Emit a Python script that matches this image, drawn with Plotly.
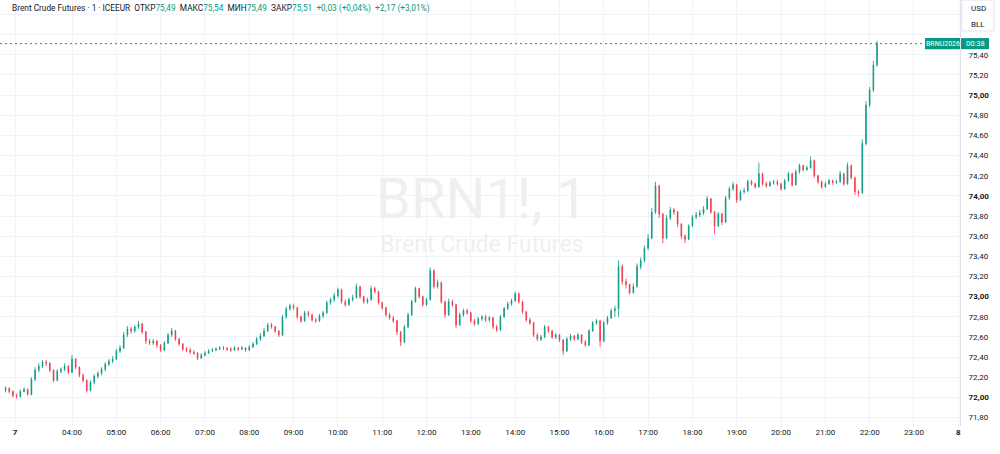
import plotly.graph_objects as go
import pandas as pd

# ---------------- data (5-minute candles) ----------------
opens = [
    72.07, 72.09, 72.06, 72.02, 72.01, 72.06, 72.08, 72.03, 72.18, 72.27, 72.31, 72.35,
    72.34, 72.27, 72.17, 72.26, 72.28, 72.31, 72.25, 72.38, 72.30, 72.22, 72.17, 72.07,
    72.15, 72.21, 72.24, 72.28, 72.33, 72.36, 72.38, 72.46, 72.49, 72.62, 72.68, 72.66,
    72.70, 72.73, 72.65, 72.56, 72.54, 72.56, 72.52, 72.47, 72.54, 72.62, 72.66, 72.58,
    72.53, 72.48, 72.47, 72.45, 72.44, 72.39, 72.42, 72.44, 72.46, 72.47, 72.48, 72.49,
    72.49, 72.48, 72.47, 72.49, 72.48, 72.49, 72.47, 72.50, 72.53, 72.58, 72.61, 72.66,
    72.72, 72.70, 72.66, 72.62, 72.80, 72.88, 72.91, 72.89, 72.80, 72.76, 72.84, 72.82,
    72.77, 72.76, 72.81, 72.84, 72.94, 72.97, 73.01, 73.07, 72.95, 72.92, 72.97, 72.99,
    73.10, 73.00, 72.95, 72.97, 73.08, 73.05, 72.94, 72.89, 72.82, 72.79, 72.76, 72.65,
    72.55, 72.70, 72.82, 72.95, 73.08, 73.00, 72.92, 72.97, 73.26, 73.10, 73.14, 72.95,
    72.82, 72.95, 72.92, 72.72, 72.82, 72.86, 72.84, 72.76, 72.73, 72.78, 72.80, 72.77,
    72.79, 72.70, 72.67, 72.80, 72.88, 72.93, 72.96, 73.03, 72.95, 72.85, 72.77, 72.74,
    72.62, 72.58, 72.60, 72.70, 72.66, 72.60, 72.62, 72.57, 72.46, 72.58, 72.61, 72.58,
    72.62, 72.55, 72.52, 72.66, 72.74, 72.76, 72.56, 72.74, 72.79, 72.86, 72.88, 73.30,
    73.15, 73.12, 73.04, 73.10, 73.30, 73.36, 73.48, 73.58, 73.84, 74.10, 73.82, 73.58,
    73.78, 73.86, 73.84, 73.72, 73.60, 73.57, 73.70, 73.79, 73.81, 73.83, 73.87, 73.97,
    73.84, 73.70, 73.82, 73.74, 73.98, 74.07, 74.11, 73.96, 74.04, 74.05, 74.14, 74.12,
    74.09, 74.22, 74.12, 74.10, 74.13, 74.14, 74.12, 74.07, 74.15, 74.22, 74.11, 74.24,
    74.30, 74.26, 74.28, 74.35, 74.20, 74.14, 74.09, 74.12, 74.15, 74.13, 74.14, 74.22,
    74.12, 74.30, 74.18, 74.04, 74.03, 74.52, 74.90, 75.05, 75.30,
]
highs = [
    72.11, 72.10, 72.07, 72.04, 72.08, 72.10, 72.09, 72.20, 72.30, 72.34, 72.37, 72.37,
    72.35, 72.28, 72.28, 72.30, 72.34, 72.32, 72.42, 72.39, 72.31, 72.24, 72.18, 72.17,
    72.23, 72.26, 72.30, 72.35, 72.38, 72.41, 72.48, 72.52, 72.65, 72.71, 72.70, 72.72,
    72.76, 72.74, 72.66, 72.58, 72.58, 72.57, 72.53, 72.56, 72.64, 72.69, 72.67, 72.59,
    72.54, 72.50, 72.49, 72.47, 72.45, 72.44, 72.46, 72.48, 72.49, 72.50, 72.51, 72.51,
    72.50, 72.50, 72.51, 72.50, 72.51, 72.50, 72.52, 72.55, 72.60, 72.64, 72.69, 72.74,
    72.74, 72.71, 72.67, 72.82, 72.90, 72.93, 72.93, 72.90, 72.81, 72.86, 72.86, 72.83,
    72.79, 72.83, 72.86, 72.96, 72.99, 73.04, 73.09, 73.08, 72.97, 72.99, 73.02, 73.13,
    73.11, 73.01, 72.99, 73.11, 73.10, 73.06, 72.95, 72.90, 72.84, 72.81, 72.77, 72.66,
    72.72, 72.84, 72.97, 73.10, 73.09, 73.01, 72.99, 73.29, 73.27, 73.17, 73.15, 72.96,
    72.98, 72.97, 72.93, 72.84, 72.88, 72.88, 72.85, 72.78, 72.80, 72.82, 72.82, 72.81,
    72.80, 72.72, 72.82, 72.90, 72.95, 72.98, 73.05, 73.04, 72.96, 72.86, 72.79, 72.75,
    72.64, 72.62, 72.72, 72.71, 72.67, 72.64, 72.63, 72.58, 72.60, 72.63, 72.62, 72.64,
    72.63, 72.57, 72.68, 72.76, 72.78, 72.77, 72.76, 72.81, 72.88, 72.91, 73.36, 73.32,
    73.18, 73.13, 73.13, 73.33, 73.39, 73.51, 73.62, 73.88, 74.14, 74.11, 73.83, 73.81,
    73.89, 73.88, 73.85, 73.73, 73.62, 73.72, 73.81, 73.84, 73.86, 73.90, 74.00, 73.98,
    73.85, 73.84, 73.83, 74.00, 74.09, 74.14, 74.12, 74.06, 74.08, 74.16, 74.16, 74.13,
    74.33, 74.23, 74.14, 74.15, 74.16, 74.16, 74.13, 74.17, 74.24, 74.23, 74.26, 74.32,
    74.31, 74.30, 74.39, 74.36, 74.21, 74.15, 74.14, 74.17, 74.16, 74.16, 74.25, 74.23,
    74.33, 74.31, 74.19, 74.06, 74.56, 74.94, 75.08, 75.34, 75.54,
]
lows = [
    72.05, 72.04, 72.00, 71.99, 72.00, 72.05, 72.02, 72.02, 72.16, 72.25, 72.29, 72.31,
    72.25, 72.15, 72.16, 72.24, 72.26, 72.23, 72.24, 72.28, 72.20, 72.15, 72.05, 72.06,
    72.13, 72.19, 72.22, 72.26, 72.31, 72.34, 72.37, 72.44, 72.48, 72.60, 72.63, 72.64,
    72.68, 72.63, 72.53, 72.52, 72.52, 72.49, 72.45, 72.46, 72.53, 72.60, 72.56, 72.51,
    72.46, 72.45, 72.43, 72.42, 72.37, 72.38, 72.41, 72.43, 72.45, 72.46, 72.47, 72.47,
    72.46, 72.45, 72.46, 72.46, 72.47, 72.45, 72.46, 72.49, 72.52, 72.56, 72.60, 72.65,
    72.68, 72.64, 72.60, 72.61, 72.78, 72.86, 72.87, 72.78, 72.74, 72.75, 72.80, 72.75,
    72.74, 72.75, 72.79, 72.83, 72.92, 72.95, 72.99, 72.93, 72.90, 72.91, 72.95, 72.98,
    72.98, 72.93, 72.93, 72.96, 73.03, 72.92, 72.87, 72.80, 72.77, 72.74, 72.62, 72.51,
    72.54, 72.69, 72.81, 72.94, 72.98, 72.90, 72.91, 72.96, 73.08, 73.08, 72.93, 72.79,
    72.81, 72.90, 72.69, 72.71, 72.80, 72.82, 72.74, 72.71, 72.72, 72.76, 72.75, 72.75,
    72.68, 72.65, 72.66, 72.79, 72.87, 72.91, 72.95, 72.93, 72.83, 72.75, 72.72, 72.60,
    72.56, 72.56, 72.59, 72.64, 72.58, 72.58, 72.55, 72.42, 72.45, 72.56, 72.56, 72.57,
    72.53, 72.50, 72.51, 72.65, 72.72, 72.50, 72.55, 72.72, 72.78, 72.80, 72.80, 73.12,
    73.08, 73.02, 73.03, 73.09, 73.27, 73.34, 73.46, 73.57, 73.82, 73.78, 73.53, 73.57,
    73.76, 73.81, 73.69, 73.57, 73.53, 73.56, 73.69, 73.77, 73.79, 73.81, 73.86, 73.82,
    73.62, 73.69, 73.71, 73.73, 73.96, 74.05, 73.93, 73.95, 74.02, 74.04, 74.10, 74.07,
    74.08, 74.10, 74.08, 74.09, 74.11, 74.10, 74.05, 74.06, 74.14, 74.09, 74.10, 74.22,
    74.24, 74.25, 74.27, 74.18, 74.12, 74.07, 74.08, 74.11, 74.11, 74.12, 74.13, 74.10,
    74.11, 74.16, 74.01, 73.99, 74.02, 74.50, 74.88, 75.03, 75.28,
]
closes = [
    72.09, 72.06, 72.02, 72.01, 72.06, 72.08, 72.03, 72.18, 72.27, 72.31, 72.35, 72.34,
    72.27, 72.17, 72.26, 72.28, 72.31, 72.25, 72.38, 72.30, 72.22, 72.17, 72.07, 72.15,
    72.21, 72.24, 72.28, 72.33, 72.36, 72.38, 72.46, 72.49, 72.62, 72.68, 72.66, 72.70,
    72.73, 72.65, 72.56, 72.54, 72.56, 72.52, 72.47, 72.54, 72.62, 72.66, 72.58, 72.53,
    72.48, 72.47, 72.45, 72.44, 72.39, 72.42, 72.44, 72.46, 72.47, 72.48, 72.49, 72.49,
    72.48, 72.47, 72.49, 72.48, 72.49, 72.47, 72.50, 72.53, 72.58, 72.61, 72.66, 72.72,
    72.70, 72.66, 72.62, 72.80, 72.88, 72.91, 72.89, 72.80, 72.76, 72.84, 72.82, 72.77,
    72.76, 72.81, 72.84, 72.94, 72.97, 73.01, 73.07, 72.95, 72.92, 72.97, 72.99, 73.10,
    73.00, 72.95, 72.97, 73.08, 73.05, 72.94, 72.89, 72.82, 72.79, 72.76, 72.65, 72.55,
    72.70, 72.82, 72.95, 73.08, 73.00, 72.92, 72.97, 73.26, 73.10, 73.14, 72.95, 72.82,
    72.95, 72.92, 72.72, 72.82, 72.86, 72.84, 72.76, 72.73, 72.78, 72.80, 72.77, 72.79,
    72.70, 72.67, 72.80, 72.88, 72.93, 72.96, 73.03, 72.95, 72.85, 72.77, 72.74, 72.62,
    72.58, 72.60, 72.70, 72.66, 72.60, 72.62, 72.57, 72.46, 72.58, 72.61, 72.58, 72.62,
    72.55, 72.52, 72.66, 72.74, 72.76, 72.56, 72.74, 72.79, 72.86, 72.88, 73.30, 73.15,
    73.12, 73.04, 73.10, 73.30, 73.36, 73.48, 73.58, 73.84, 74.10, 73.82, 73.58, 73.78,
    73.86, 73.84, 73.72, 73.60, 73.57, 73.70, 73.79, 73.81, 73.83, 73.87, 73.97, 73.84,
    73.70, 73.82, 73.74, 73.98, 74.07, 74.11, 73.96, 74.04, 74.05, 74.14, 74.12, 74.09,
    74.22, 74.12, 74.10, 74.13, 74.14, 74.12, 74.07, 74.15, 74.22, 74.11, 74.24, 74.30,
    74.26, 74.28, 74.35, 74.20, 74.14, 74.09, 74.12, 74.15, 74.13, 74.14, 74.22, 74.12,
    74.30, 74.18, 74.04, 74.03, 74.52, 74.90, 75.05, 75.30, 75.51,
]

first_bar_time = "2025-07-07 02:30"
bar_step = "5min"

x_tick_times = [
    "2025-07-07 02:43", "2025-07-07 04:00", "2025-07-07 05:00", "2025-07-07 06:00",
    "2025-07-07 07:00", "2025-07-07 08:00", "2025-07-07 09:00", "2025-07-07 10:00",
    "2025-07-07 11:00", "2025-07-07 12:00", "2025-07-07 13:00", "2025-07-07 14:00",
    "2025-07-07 15:00", "2025-07-07 16:00", "2025-07-07 17:00", "2025-07-07 18:00",
    "2025-07-07 19:00", "2025-07-07 20:00", "2025-07-07 21:00", "2025-07-07 22:00",
    "2025-07-07 23:00", "2025-07-08 00:00",
]
x_tick_labels = [
    "<b>7</b>", "04:00", "05:00", "06:00", "07:00", "08:00", "09:00", "10:00",
    "11:00", "12:00", "13:00", "14:00", "15:00", "16:00", "17:00", "18:00",
    "19:00", "20:00", "21:00", "22:00", "23:00", "<b>8</b>",
]
y_tick_vals = [71.8, 72.0, 72.2, 72.4, 72.6, 72.8, 73.0, 73.2, 73.4, 73.6,
               73.8, 74.0, 74.2, 74.4, 74.6, 74.8, 75.0, 75.2, 75.4, 75.6, 75.8]
y_tick_labels = ["71,80", "<b>72,00</b>", "72,20", "72,40", "72,60", "72,80",
                 "<b>73,00</b>", "73,20", "73,40", "73,60", "73,80", "<b>74,00</b>",
                 "74,20", "74,40", "74,60", "74,80", "<b>75,00</b>", "75,20",
                 "75,40", "", ""]

last_price = 75.51
ref_level = 72.00
symbol_label = "BRNU2026"
countdown_label = "00:38"
watermark_main = "BRN1!, 1"
watermark_sub = "Brent Crude Futures"

UP = "#089981"
DOWN = "#F23645"
TXT = "#131722"
GRID = "#f0f3fa"
FONT = "Roboto, Noto Sans, sans-serif"

# ---------------- geometry ----------------
W, H = 1000, 454
ML, MR, MT, MB = 0, 40, 0, 28
PW, PH = W - ML - MR, H - MT - MB


def px(x):
    return x / PW


def py(y):
    return 1 - y / PH


times = pd.date_range(first_bar_time, periods=len(closes), freq=bar_step)

fig = go.Figure()
fig.add_trace(go.Candlestick(
    x=times, open=opens, high=highs, low=lows, close=closes,
    increasing=dict(line=dict(color=UP, width=0.8), fillcolor=UP),
    decreasing=dict(line=dict(color=DOWN, width=0.8), fillcolor=DOWN),
    whiskerwidth=0, showlegend=False, hoverinfo="skip",
))

shapes = [
    dict(type="line", xref="paper", yref="y", x0=0, x1=1, y0=ref_level, y1=ref_level,
         line=dict(color="rgba(255,152,0,0.55)", width=1, dash="2px,2px"), layer="below"),
    dict(type="line", xref="paper", yref="y", x0=0, x1=px(925), y0=last_price, y1=last_price,
         line=dict(color=UP, width=1, dash="2px,3px"), layer="above"),
    # USD / BLL box
    dict(type="rect", xref="paper", yref="paper", x0=px(962), x1=px(994), y0=py(31), y1=py(0),
         fillcolor="white", line=dict(color="#e0e3eb", width=1), layer="above"),
    # last price labels
    dict(type="rect", xref="paper", yref="y", x0=px(925), x1=px(960),
         y0=last_price - 0.055, y1=last_price + 0.055,
         fillcolor=UP, line=dict(width=0), layer="above"),
    dict(type="rect", xref="paper", yref="y", x0=px(961), x1=px(989),
         y0=last_price - 0.055, y1=last_price + 0.055,
         fillcolor=UP, line=dict(width=0), layer="above"),
]

val = lambda s: f"<span style='color:{UP}'>{s}</span>"
sp = "\u00a0\u00a0"
header = ("Brent Crude Futures · 1 · ICEEUR" + sp + "ОТКР" + val("75,49") + sp + "МАКС" + val("75,54")
          + sp + "МИН" + val("75,49") + sp + "ЗАКР" + val("75,51") + sp + val("+0,03 (+0,04%)")
          + sp + val("+2,17 (+3,01%)"))

watermark = (f"<span style='font-size:56px'>{watermark_main}</span><br>"
             f"<span style='font-size:23px'>{watermark_sub}</span>")

annotations = [
    dict(text=watermark, xref="paper", yref="paper", x=px(482), y=py(212),
         xanchor="center", yanchor="middle", align="center",
         showarrow=False, font=dict(family=FONT, size=26, color="#efefef")),
    dict(text=header, xref="paper", yref="paper", x=px(10), y=py(8), xanchor="left",
         yanchor="middle", showarrow=False, font=dict(family=FONT, size=8.3, color=TXT)),
    dict(text="USD", xref="paper", yref="paper", x=px(978), y=py(8), xanchor="center",
         yanchor="middle", showarrow=False, font=dict(family=FONT, size=8, color=TXT)),
    dict(text="BLL", xref="paper", yref="paper", x=px(978), y=py(24), xanchor="center",
         yanchor="middle", showarrow=False, font=dict(family=FONT, size=8, color=TXT)),
    dict(text=symbol_label, xref="paper", yref="y", x=px(942.5), y=last_price,
         xanchor="center", yanchor="middle", showarrow=False,
         font=dict(family=FONT, size=7, color="white")),
    dict(text=countdown_label, xref="paper", yref="y", x=px(975), y=last_price,
         xanchor="center", yanchor="middle", showarrow=False,
         font=dict(family=FONT, size=7.5, color="white")),
]

fig.update_layout(
    width=W, height=H, margin=dict(l=ML, r=MR, t=MT, b=MB, autoexpand=False),
    paper_bgcolor="white", plot_bgcolor="white",
    separators=", ", boxgap=0.72,
    shapes=shapes, annotations=annotations,
    font=dict(family=FONT, size=8, color=TXT),
    xaxis=dict(
        type="date", range=["2025-07-07 02:22:30", "2025-07-08 00:02:18"],
        rangeslider=dict(visible=False), tickmode="array",
        tickvals=x_tick_times, ticktext=x_tick_labels, automargin=False,
        showgrid=True, gridcolor=GRID, gridwidth=1, zeroline=False,
        showline=False, ticks="", tickfont=dict(size=8, color=TXT),
    ),
    yaxis=dict(
        side="right", range=[71.717, 75.943], tickmode="array",
        tickvals=y_tick_vals, ticktext=y_tick_labels, automargin=False,
        showgrid=True, gridcolor=GRID, gridwidth=1, zeroline=False,
        showline=True, linecolor="#e0e3eb", linewidth=1, ticks="",
        tickfont=dict(size=8, color=TXT), ticklabelstandoff=6,
    ),
)

fig.write_html("out.html")
